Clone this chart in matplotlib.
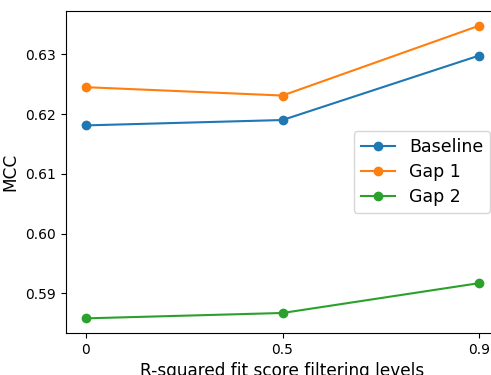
import matplotlib
matplotlib.use('Agg')
import matplotlib.pyplot as plt

levels = ['0', '0.5', '0.9']
baseline = [0.6181, 0.6190, 0.6298]
gap1 = [0.6245, 0.6231, 0.6348]
gap2 = [0.5858, 0.5867, 0.5917]

fig = plt.figure(figsize=(4.91, 3.75), dpi=100)
ax = fig.add_axes([66 / 491, 42 / 375, 433 / 491, 322 / 375])

ax.plot(levels, baseline, marker='o', label='Baseline')
ax.plot(levels, gap1, marker='o', label='Gap 1')
ax.plot(levels, gap2, marker='o', label='Gap 2')

ax.set_xlabel('R-squared fit score filtering levels', fontsize=12.2)
ax.set_ylabel('MCC', fontsize=12.2)
ax.legend(loc='center right', fontsize=12.5, labelspacing=0.4)

fig.savefig('out.png', dpi=100)
